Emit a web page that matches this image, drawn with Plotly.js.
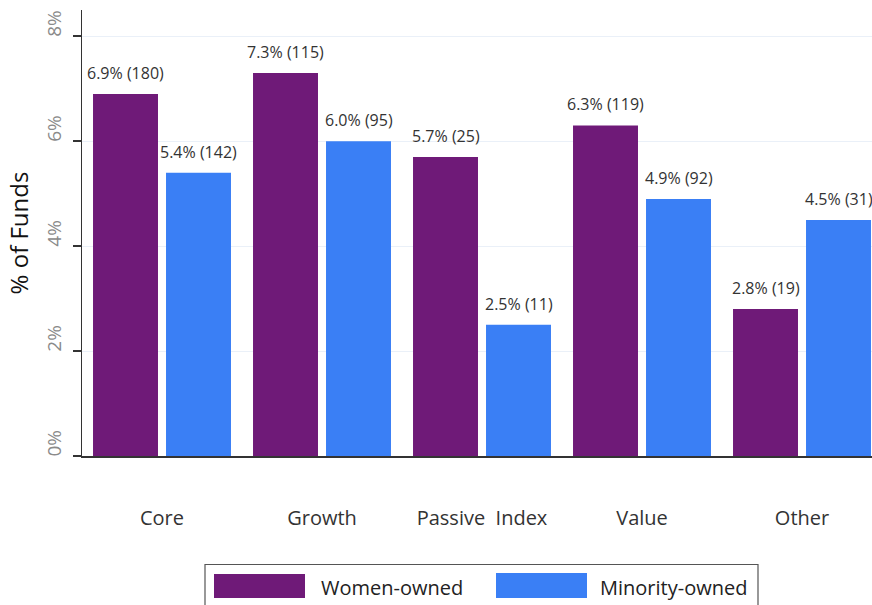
<!DOCTYPE html>
<html>
<head>
<meta charset="utf-8">
<script src="https://cdn.plot.ly/plotly-3.0.1.min.js"></script>
<style>
  html, body { margin: 0; padding: 0; background: #fff; }
  #chart { width: 872px; height: 605px; }
</style>
</head>
<body>
<div id="chart"></div>
<script>
// ---- Data ----
const categories = ['Core', 'Growth', 'Passive Index', 'Value', 'Other'];
const xTickText = ['Core', 'Growth', 'Passive\u00A0 Index', 'Value', 'Other'];
const seriesNames = ['Women-owned', 'Minority-owned'];
const womenPct = [6.9, 7.3, 5.7, 6.3, 2.8];
const womenCount = [180, 115, 25, 119, 19];
const minorityPct = [5.4, 6.0, 2.5, 4.9, 4.5];
const minorityCount = [142, 95, 11, 92, 31];
const yTickVals = [0, 2, 4, 6, 8];
const yTickText = ['0%', '2%', '4%', '6%', '8%'];

// ---- Styles ----
const PURPLE = '#6F1A78';
const BLUE = '#3A7FF5';
const FONT = 'Open Sans, Noto Sans, sans-serif';

function labelOf(p, c) { return p.toFixed(1) + '% (' + c + ')'; }

const traces = [
  { type: 'bar', name: seriesNames[0], x: categories, y: womenPct,
    marker: { color: PURPLE }, showlegend: false, hoverinfo: 'skip' },
  { type: 'bar', name: seriesNames[1], x: categories, y: minorityPct,
    marker: { color: BLUE }, showlegend: false, hoverinfo: 'skip' }
];

const annotations = [];
const OFF = 36.5;
categories.forEach((c, i) => {
  annotations.push({ x: c, y: womenPct[i], xref: 'x', yref: 'y', text: labelOf(womenPct[i], womenCount[i]),
    showarrow: false, yanchor: 'bottom', xshift: -OFF, yshift: 8,
    font: { family: FONT, size: 16, color: '#333' } });
  annotations.push({ x: c, y: minorityPct[i], xref: 'x', yref: 'y', text: labelOf(minorityPct[i], minorityCount[i]),
    showarrow: false, yanchor: 'bottom', xshift: OFF, yshift: 8,
    font: { family: FONT, size: 16, color: '#333' } });
});

// legend (drawn manually to get wide swatches)
const L = 82, W = 790, T = 10, H = 446;
const px = v => (v - L) / W;
const py = v => (T + H - v) / H;
const shapes = [
  { type: 'rect', xref: 'paper', yref: 'paper', x0: px(205), x1: px(758), y0: py(610), y1: py(564.5),
    line: { color: '#555', width: 1.2 }, fillcolor: 'rgba(0,0,0,0)' },
  { type: 'rect', xref: 'paper', yref: 'paper', x0: px(214), x1: px(305), y0: py(598), y1: py(574),
    line: { width: 0 }, fillcolor: PURPLE },
  { type: 'rect', xref: 'paper', yref: 'paper', x0: px(496), x1: px(587), y0: py(598), y1: py(573),
    line: { width: 0 }, fillcolor: BLUE }
];
annotations.push({ xref: 'paper', yref: 'paper', x: px(319), y: py(587), xanchor: 'left', yanchor: 'middle',
  text: seriesNames[0], showarrow: false, font: { family: FONT, size: 20, color: '#222' } });
annotations.push({ xref: 'paper', yref: 'paper', x: px(598), y: py(587), xanchor: 'left', yanchor: 'middle',
  text: seriesNames[1], showarrow: false, font: { family: FONT, size: 20, color: '#222' } });

const NB = '\u00A0\u00A0\u00A0\u00A0';

const layout = {
  width: 872, height: 605,
  margin: { l: L, r: 0, t: T, b: 605 - T - H },
  paper_bgcolor: '#fff', plot_bgcolor: '#fff',
  barmode: 'group', bargap: 0.0875, bargroupgap: 0.11,
  showlegend: false,
  font: { family: FONT },
  xaxis: {
    type: 'category', range: [-0.5, 4.4375],
    tickmode: 'array', tickvals: categories, ticktext: xTickText,
    showline: true, linecolor: '#333', linewidth: 1.5,
    ticks: '', showgrid: false, zeroline: false,
    ticklabelstandoff: 43,
    tickfont: { family: FONT, size: 20, color: '#333' }
  },
  yaxis: {
    range: [0, 8.5], tickvals: yTickVals, ticktext: yTickText.map(t => NB + t),
    tickangle: -90,
    showline: true, linecolor: '#333', linewidth: 1.5,
    ticks: 'outside', ticklen: 8, tickcolor: '#333', tickwidth: 2,
    showgrid: true, gridcolor: '#eaf0f8', gridwidth: 1,
    zeroline: false,
    ticklabelstandoff: 4,
    tickfont: { family: FONT, size: 19, color: '#8a8a8a' },
    title: { text: '% of Funds', standoff: 5, font: { family: FONT, size: 24, color: '#111' } }
  },
  annotations: annotations,
  shapes: shapes
};

Plotly.newPlot('chart', traces, layout, { staticPlot: true, displayModeBar: false });
</script>
</body>
</html>
